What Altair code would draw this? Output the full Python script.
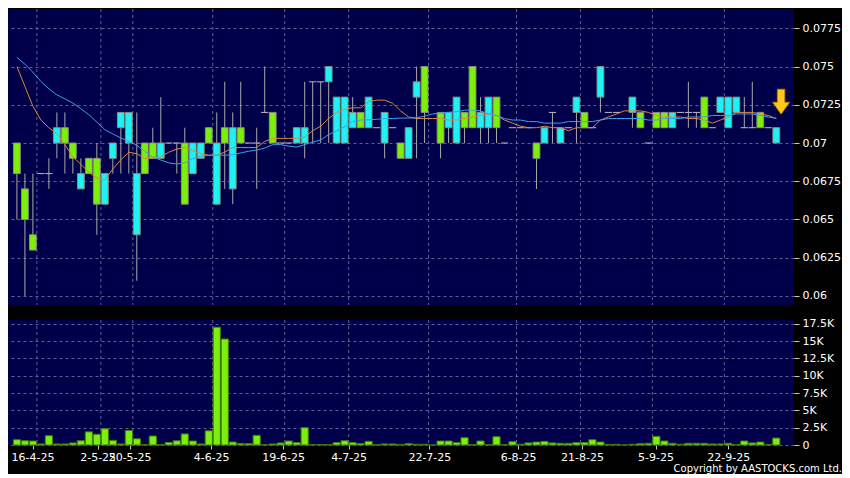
import altair as alt
import pandas as pd

# ---------------- data ----------------
# one slot per trading day, index 0..95 ; None = no candle drawn
opens = [0.070, 0.067, 0.064, 0.068, 0.068, 0.070, 0.071, 0.070, 0.067, 0.069,
         0.069, 0.066, 0.069, 0.071, 0.070, 0.064, 0.070, 0.070, 0.069, 0.070,
         0.070, 0.070, 0.068, 0.069, 0.071, 0.066, 0.071, 0.067, 0.071, 0.070,
         0.070, 0.072, 0.072, 0.070, 0.070, 0.070, 0.070, 0.074, 0.074, 0.074,
         0.070, 0.070, 0.071, 0.072, 0.071, 0.071, 0.070, 0.071, 0.070, 0.069,
         0.073, 0.075, None, 0.072, 0.071, 0.070, 0.072, 0.075, 0.071, 0.071,
         0.073, 0.070, 0.071, 0.071, 0.071, 0.070, 0.070, 0.072, 0.070, 0.071,
         0.072, 0.072, 0.071, 0.073, 0.072, 0.072, None, 0.072, 0.072, 0.070,
         0.072, 0.072, 0.071, 0.072, 0.072, 0.072, 0.073, 0.071, 0.072, 0.071,
         0.072, 0.071, 0.071, 0.072, 0.071, 0.070]
highs = [0.070, 0.068, 0.068, 0.068, 0.069, 0.072, 0.072, 0.070, 0.069, 0.069,
         0.070, 0.068, 0.070, 0.072, 0.072, 0.072, 0.070, 0.071, 0.073, 0.070,
         0.070, 0.071, 0.070, 0.070, 0.071, 0.072, 0.074, 0.072, 0.074, 0.070,
         0.071, 0.075, 0.072, 0.070, 0.070, 0.071, 0.074, 0.074, 0.074, 0.075,
         0.073, 0.073, 0.073, 0.072, 0.073, 0.071, 0.072, 0.071, 0.070, 0.071,
         0.075, 0.075, None, 0.072, 0.072, 0.073, 0.072, 0.075, 0.073, 0.073,
         0.073, 0.070, 0.071, 0.071, 0.071, 0.070, 0.071, 0.072, 0.071, 0.071,
         0.073, 0.072, 0.071, 0.075, 0.072, 0.072, None, 0.073, 0.072, 0.070,
         0.072, 0.072, 0.072, 0.072, 0.074, 0.072, 0.073, 0.071, 0.073, 0.073,
         0.073, 0.073, 0.074, 0.072, 0.071, 0.071]
lows = [0.065, 0.060, 0.063, 0.068, 0.067, 0.069, 0.068, 0.068, 0.067, 0.068,
        0.064, 0.066, 0.068, 0.068, 0.068, 0.061, 0.068, 0.069, 0.069, 0.070,
        0.068, 0.066, 0.068, 0.069, 0.070, 0.066, 0.067, 0.066, 0.070, 0.070,
        0.067, 0.072, 0.070, 0.070, 0.070, 0.070, 0.069, 0.070, 0.070, 0.070,
        0.070, 0.070, 0.071, 0.071, 0.071, 0.071, 0.069, 0.071, 0.069, 0.069,
        0.069, 0.070, None, 0.069, 0.070, 0.070, 0.070, 0.071, 0.070, 0.070,
        0.070, 0.070, 0.071, 0.071, 0.071, 0.067, 0.070, 0.070, 0.070, 0.071,
        0.070, 0.071, 0.071, 0.072, 0.072, 0.072, None, 0.071, 0.071, 0.070,
        0.071, 0.071, 0.071, 0.072, 0.071, 0.071, 0.071, 0.071, 0.072, 0.071,
        0.072, 0.071, 0.071, 0.071, 0.071, 0.070]
closes = [0.068, 0.065, 0.063, 0.068, 0.068, 0.071, 0.070, 0.069, 0.068, 0.068,
          0.066, 0.068, 0.070, 0.072, 0.072, 0.068, 0.068, 0.069, 0.070, 0.070,
          0.070, 0.066, 0.070, 0.070, 0.070, 0.070, 0.070, 0.071, 0.070, 0.070,
          0.070, 0.072, 0.070, 0.070, 0.070, 0.071, 0.071, 0.074, 0.074, 0.075,
          0.073, 0.073, 0.072, 0.071, 0.073, 0.071, 0.072, 0.071, 0.069, 0.071,
          0.074, 0.072, None, 0.070, 0.072, 0.073, 0.071, 0.071, 0.072, 0.073,
          0.071, 0.070, 0.071, 0.071, 0.071, 0.069, 0.071, 0.072, 0.071, 0.071,
          0.073, 0.071, 0.071, 0.075, 0.072, 0.072, None, 0.073, 0.071, 0.070,
          0.071, 0.071, 0.072, 0.072, 0.072, 0.072, 0.071, 0.071, 0.073, 0.073,
          0.073, 0.071, 0.071, 0.071, 0.071, 0.071]
volumes = [770, 620, 580, 150, 1350, 150, 150, 300, 620, 1900,
           1550, 2350, 670, 150, 2100, 900, 50, 1300, 50, 380,
           620, 1600, 580, 150, 2050, 17000, 15300, 430, 200, 200,
           1400, 50, 150, 300, 580, 350, 2500, 50, 50, 50,
           350, 620, 350, 200, 530, 50, 150, 150, 80, 200,
           100, 100, 0, 580, 580, 350, 1050, 50, 580, 50,
           1200, 50, 480, 100, 300, 430, 530, 300, 250, 250,
           350, 350, 770, 430, 80, 100, 0, 100, 200, 250,
           1250, 580, 250, 100, 250, 250, 250, 150, 150, 250,
           80, 580, 300, 430, 80, 1000]
ma_short = [0.0750, 0.0737, 0.0724, 0.0715, 0.0710, 0.0706, 0.0699, 0.0691, 0.0686, 0.0681,
            0.0677, 0.0676, 0.0683, 0.0689, 0.0694, 0.0693, 0.0690, 0.0690, 0.0691, 0.0694,
            0.0696, 0.0697, 0.0695, 0.0693, 0.0692, 0.0692, 0.0694, 0.0697, 0.0697, 0.0697,
            0.0697, 0.0701, 0.0703, 0.0703, 0.0703, 0.0703, 0.0704, 0.0708, 0.0711, 0.0716,
            0.0720, 0.0722, 0.0723, 0.0723, 0.0727, 0.0728, 0.0728, 0.0726, 0.0721, 0.0717,
            0.0716, 0.0716, 0.0716, 0.0716, 0.0715, 0.0715, 0.0716, 0.0717, 0.0718, 0.0719,
            0.0718, 0.0715, 0.0713, 0.0711, 0.0710, 0.0710, 0.0711, 0.0710, 0.0710, 0.0708,
            0.0710, 0.0710, 0.0710, 0.0715, 0.0717, 0.0719, 0.0721, 0.0721, 0.0721, 0.0720,
            0.0718, 0.0717, 0.0717, 0.0717, 0.0716, 0.0716, 0.0715, 0.0713, 0.0715, 0.0717,
            0.0720, 0.0720, 0.0720, 0.0719, 0.0718, 0.0716]
ma_long = [0.07559, 0.07515, 0.07463, 0.07402, 0.07354, 0.07315, 0.07289, 0.07261, 0.07224, 0.07185,
           0.07137, 0.07087, 0.07059, 0.07033, 0.07011, 0.06985, 0.06946, 0.06907, 0.06889, 0.06870,
           0.06863, 0.06870, 0.06898, 0.06913, 0.06920, 0.06920, 0.06920, 0.06924, 0.06935, 0.06946,
           0.06954, 0.06967, 0.06989, 0.06990, 0.06980, 0.06973, 0.06990, 0.07005, 0.07020, 0.07054,
           0.07080, 0.07105, 0.07140, 0.07150, 0.07152, 0.07155, 0.07160, 0.07160, 0.07163, 0.07163,
           0.07165, 0.07175, 0.07190, 0.07196, 0.07200, 0.07205, 0.07215, 0.07215, 0.07210, 0.07190,
           0.07180, 0.07160, 0.07150, 0.07150, 0.07140, 0.07140, 0.07130, 0.07130, 0.07130, 0.07140,
           0.07140, 0.07140, 0.07140, 0.07150, 0.07160, 0.07160, 0.07160, 0.07160, 0.07160, 0.07150,
           0.07150, 0.07160, 0.07160, 0.07160, 0.07170, 0.07170, 0.07170, 0.07180, 0.07180, 0.07180,
           0.07190, 0.07190, 0.07190, 0.07180, 0.07170, 0.07160]

tick_pos = [1.95, 10.1, 14.1, 24.3, 33.3, 41.5, 51.6, 62.7, 70.7, 79.9, 89.0]
tick_labels = ["16-4-25", "2-5-25", "20-5-25", "4-6-25", "19-6-25", "4-7-25",
               "22-7-25", "6-8-25", "21-8-25", "5-9-25", "22-9-25"]
grid_pos = [2.5, 10.5, 14.5, 24.5, 33.5, 41.5, 51.5, 62.5, 70.5, 79.5, 88.5]
price_ticks = [0.06, 0.0625, 0.065, 0.0675, 0.07, 0.0725, 0.075, 0.0775]
vol_ticks = [0, 2500, 5000, 7500, 10000, 12500, 15000, 17500]
arrow_i = [95.6]
arrow_p = [0.0727]
copyright = "Copyright by AASTOCKS.com Ltd."

# ---------------- tables ----------------
rows = []
for i, (o, h, l, c) in enumerate(zip(opens, highs, lows, closes)):
    if o is None:
        continue
    kind = "up" if c > o else ("down" if c < o else "flat")
    rows.append(dict(i=i, o=o, h=h, l=l, c=c, top=max(o, c), bot=min(o, c),
                     kind=kind, x0=i - 0.45, x1=i + 0.45))
cdf = pd.DataFrame(rows)
vdf = pd.DataFrame({"i": list(range(len(volumes))), "v": volumes})
mdf = pd.DataFrame({"i": list(range(len(ma_short))), "ms": ma_short, "ml": ma_long})
gdf = pd.DataFrame({"g": grid_pos})
adf = pd.DataFrame({"i": arrow_i, "p": arrow_p})

W = 786
PH = 296
VH = 125
NAVY = "#00004a"
GRID = "#7676a6"
FONT = "DejaVu Sans"

xs = alt.Scale(domain=[-0.49, 96.59], nice=False, zero=False)
ys = alt.Scale(domain=[0.05941, 0.07876], nice=False, zero=False)
vs = alt.Scale(domain=[0, 18040], nice=False, zero=False)

price_axis = alt.Axis(orient="right", values=price_ticks, title=None,
                      labelExpr="format(datum.value, '.4~f')",
                      grid=True, gridColor=GRID, gridDash=[3, 3], gridOpacity=0.8,
                      tickSize=5, tickColor="#c8c8c8", labelPadding=3,
                      labelColor="white", labelFont=FONT, labelFontSize=11, domain=False)
no_x = alt.Axis(labels=False, ticks=False, grid=False, domain=False, title=None)

vgrid_p = alt.Chart(gdf).mark_rule(color=GRID, strokeDash=[3, 3], strokeWidth=1, opacity=0.8).encode(
    x=alt.X("g:Q", scale=xs, axis=no_x))

wicks = alt.Chart(cdf).mark_rule(color="#a9a9a9", strokeWidth=1).encode(
    x=alt.X("i:Q", scale=xs, axis=no_x),
    y=alt.Y("l:Q", scale=ys, axis=price_axis),
    y2="h:Q")

dashes = alt.Chart(cdf).transform_filter("datum.kind == 'flat'").mark_rule(
    color="#bdbdbd", strokeWidth=1).encode(
    x=alt.X("x0:Q", scale=xs, axis=no_x), x2="x1:Q",
    y=alt.Y("o:Q", scale=ys, axis=price_axis))

bodies = alt.Chart(cdf).transform_filter("datum.kind != 'flat'").mark_bar(
    size=6.8, stroke="#8c8c7c", strokeWidth=1).encode(
    x=alt.X("i:Q", scale=xs, axis=no_x),
    y=alt.Y("top:Q", scale=ys, axis=price_axis), y2="bot:Q",
    fill=alt.Fill("kind:N", scale=alt.Scale(domain=["up", "down"], range=["#1ef2f2", "#7cf00c"]),
                  legend=None))

ma_s = alt.Chart(mdf).mark_line(color="#e0843e", strokeWidth=1).encode(
    x=alt.X("i:Q", scale=xs, axis=no_x), y=alt.Y("ms:Q", scale=ys, axis=price_axis))
ma_l = alt.Chart(mdf).mark_line(color="#3a9ff0", strokeWidth=1).encode(
    x=alt.X("i:Q", scale=xs, axis=no_x), y=alt.Y("ml:Q", scale=ys, axis=price_axis))

arrow_shape = "M-0.3,-1 L0.3,-1 L0.3,0.05 L0.68,0.05 L0,1 L-0.68,0.05 L-0.3,0.05 Z"
arrow = alt.Chart(adf).mark_point(shape=arrow_shape, filled=True, fill="#ffc61e",
                                  stroke="#c07a00", strokeWidth=1, size=620, opacity=1).encode(
    x=alt.X("i:Q", scale=xs, axis=no_x), y=alt.Y("p:Q", scale=ys, axis=price_axis))

price = alt.layer(vgrid_p, wicks, dashes, bodies, ma_s, ma_l, arrow).properties(width=W, height=PH)

x_expr = " : ".join(f"datum.value == {p} ? '{l}'" for p, l in zip(tick_pos, tick_labels)) + " : ''"
vol_x_axis = alt.Axis(values=tick_pos, labelExpr=x_expr, title=None, grid=False,
                      tickSize=4, tickColor="#c8c8c8", labelPadding=2, labelColor="white",
                      labelFont=FONT, labelFontSize=11, domain=False, labelOverlap=False,
                      labelFlush=False)
vol_y_axis = alt.Axis(orient="right", values=vol_ticks, title=None,
                      labelExpr="datum.value == 0 ? '0' : format(datum.value / 1000, '~g') + 'K'",
                      grid=True, gridColor=GRID, gridDash=[3, 3], gridOpacity=0.8,
                      tickSize=5, tickColor="#c8c8c8", labelPadding=3, labelColor="white",
                      labelFont=FONT, labelFontSize=11, domain=False)

vgrid_v = alt.Chart(gdf).mark_rule(color=GRID, strokeDash=[3, 3], strokeWidth=1, opacity=0.8).encode(
    x=alt.X("g:Q", scale=xs, axis=vol_x_axis))
vbars = alt.Chart(vdf).mark_bar(size=7.2, fill="#7cf00c", stroke="#3c7a08", strokeWidth=1).encode(
    x=alt.X("i:Q", scale=xs, axis=vol_x_axis),
    y=alt.Y("v:Q", scale=vs, axis=vol_y_axis))
ctext = alt.Chart(pd.DataFrame({"t": [copyright]})).mark_text(
    align="right", baseline="bottom", color="white", font=FONT, fontSize=10).encode(
    x=alt.value(834), y=alt.value(154), text="t:N")

volume = alt.layer(vgrid_v, vbars, ctext).properties(width=W, height=VH)

chart = alt.vconcat(price, volume, spacing=11).properties(
    padding={"left": 0, "top": 0, "right": 0, "bottom": 0},
    background="black"
).configure_view(fill=NAVY, stroke=None)

chart.save("out.html", embed_options={"renderer": "svg", "actions": False})
